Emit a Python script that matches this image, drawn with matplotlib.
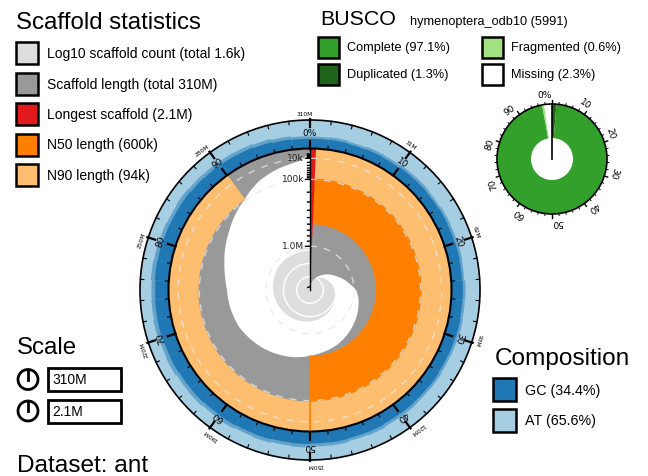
import numpy as np
import matplotlib
matplotlib.use("Agg")
import matplotlib.pyplot as plt
from matplotlib.path import Path
from matplotlib.patches import PathPatch, Rectangle, Circle

plt.rcParams['font.family'] = ['Liberation Sans', 'DejaVu Sans']

W, H, DPI = 648, 476, 100

# ---- assembly summary -------------------------------------------------
dataset = "ant"
total_length = 309e6
scaffold_total = 1600
longest = 2.1e6
n50 = 600e3
n90 = 94e3
gc_total = 34.4
at_total = 65.6

# scaffold length (kb) reached at each cumulative percentage of the assembly
length_pct = [0, 0.7, 2.5, 5, 7.5, 10, 12.5, 15, 17.5, 20, 22.5, 25, 27.5, 30,
              32.5, 35, 37.5, 40, 42.5, 45, 47.5, 50, 52.5, 55, 57.5, 60, 62.5,
              65, 67.5, 70, 72.5, 75, 77.5, 80, 82.5, 85, 87.5, 90, 91.5, 93,
              94.5, 96, 97.5, 99, 100]
length_kb = [2100, 2041, 1926, 1814, 1705, 1600, 1498, 1399, 1304, 1190, 1080,
             957, 897, 859, 821, 785, 749, 714, 680, 655, 630, 600, 567, 536,
             507, 478, 450, 423, 397, 384, 371, 359, 323, 278, 227, 181, 132,
             94, 68, 48, 36, 27, 21, 14, 1.3]

# number of scaffolds needed to reach each cumulative percentage
count_pct = [0, 2.5, 5, 10, 15, 20, 25, 30, 35, 40, 45, 50, 55, 60, 65, 70,
             75, 80, 85, 90, 95, 100]
count_n = [1, 3, 6, 14, 26, 45, 70, 95, 125, 160, 195, 230, 275, 330, 400,
           490, 600, 720, 860, 1020, 1250, 1600]

# GC content (%) per 2% bin of the assembly: bin mean and upper range
gc_mean = [34, 35, 33, 35, 34, 37, 38, 37, 39, 38,
           39, 38, 40, 39, 41, 40, 39, 41, 40, 41,
           40, 42, 41, 43, 42, 44, 43, 45, 44, 46,
           45, 47, 46, 48, 47, 49, 48, 47, 49, 48,
           47, 46, 47, 45, 44, 43, 42, 39, 36, 34]
gc_high = [42, 44, 41, 44, 43, 46, 47, 45, 48, 47,
           48, 46, 49, 48, 50, 49, 48, 50, 49, 51,
           50, 53, 51, 54, 53, 56, 54, 57, 55, 59,
           57, 60, 59, 62, 60, 63, 61, 60, 63, 61,
           60, 58, 60, 57, 56, 55, 54, 51, 47, 43]

# BUSCO (hymenoptera_odb10, 5991 genes)
busco_lineage = "hymenoptera_odb10"
busco_total = 5991
busco_complete = 97.1
busco_duplicated = 1.3
busco_fragmented = 0.6
busco_missing = 2.3

outer_tick_labels = ["31M", "62M", "93M", "120M", "150M", "190M", "220M",
                     "250M", "280M", "310M"]
axis_tick_values = [1e4, 1e5, 1e6]
axis_tick_labels = ["10k", "100k", "1.0M"]

# ---- colours -----------------------------------------------------------
C_COUNT = "#dddddd"
C_LEN = "#999999"
C_LONG = "#e31a1c"
C_N50 = "#ff7f00"
C_N90 = "#fdbf6f"
C_GC = "#1f78b4"
C_AT = "#a6cee3"
C_COMP = "#33a02c"
C_DUP = "#20641c"
C_FRAG = "#a3e283"
C_MISS = "#ffffff"

# ---- geometry (pixels) -----------------------------------------------
CX, CY = 310, 290
R_IN, R_OUT = 141.5, 170.0
R_COUNT = 42.6
BX, BY = 552, 159
B_IN, B_OUT = 21.0, 55.0

fig = plt.figure(figsize=(W / DPI, H / DPI), dpi=DPI)
ov = fig.add_axes([0, 0, 1, 1])
ov.set_xlim(0, W)
ov.set_ylim(H, 0)
ov.axis('off')


def polar_axes(cx, cy, rmax):
    a = fig.add_axes([(cx - rmax) / W, (H - cy - rmax) / H,
                      2 * rmax / W, 2 * rmax / H], projection='polar')
    a.set_theta_zero_location('N')
    a.set_theta_direction(-1)
    a.set_ylim(0, rmax)
    a.axis('off')
    a.patch.set_alpha(0)
    return a


def th(p):
    return np.radians(np.asarray(p, float) * 3.6)


def band(ax, pct, r_inner, r_outer, **kw):
    t = th(pct)
    ri = np.broadcast_to(np.asarray(r_inner, float), t.shape)
    ro = np.broadcast_to(np.asarray(r_outer, float), t.shape)
    verts = np.vstack([np.column_stack([t, ro]),
                       np.column_stack([t[::-1], ri[::-1]]),
                       [[t[0], ro[0]]]])
    codes = [Path.MOVETO] + [Path.LINETO] * (len(verts) - 2) + [Path.CLOSEPOLY]
    patch = PathPatch(Path(verts, codes, _interpolation_steps=40), **kw)
    ax.add_patch(patch)
    return patch


def ring(ax, r, **kw):
    verts = [[0, r], [2 * np.pi, r]]
    patch = PathPatch(Path(verts, [Path.MOVETO, Path.LINETO],
                           _interpolation_steps=40), fill=False, **kw)
    ax.add_patch(patch)
    return patch


def r_len(L):
    return R_IN * (1 - np.sqrt(np.asarray(L, float) / longest))


def r_cnt(n):
    return R_COUNT * np.log10(np.asarray(n, float)) / np.log10(scaffold_total)


# ---- snail plot -------------------------------------------------------
ax = polar_axes(CX, CY, 185)

# composition ring
nb = len(gc_mean)
edges = th(np.arange(nb) * 100 / nb)
bw = 2 * np.pi / nb
ax.bar(0, R_OUT - R_IN, width=2 * np.pi, bottom=R_IN, align='edge',
       color=C_AT, linewidth=0)
gc_hi = np.array(gc_high) / 100 * (R_OUT - R_IN)
gc_mu = np.array(gc_mean) / 100 * (R_OUT - R_IN)
ax.bar(edges, gc_hi, width=bw, bottom=R_IN, align='edge', color=C_GC,
       alpha=0.5, linewidth=0)
ax.bar(edges, gc_mu, width=bw, bottom=R_IN, align='edge', color=C_GC,
       linewidth=0)

# scaffold length and count
lengths = np.array(length_kb) * 1e3
band(ax, length_pct, r_len(lengths), R_IN, facecolor=C_LEN, edgecolor='none')
cnt_patch = band(ax, count_pct, 0, r_cnt(count_n), facecolor=C_COUNT,
                 edgecolor='none')
for n in (10, 100, 1000):
    c = ring(ax, float(r_cnt(n)), edgecolor='white', linewidth=1)
    c.set_clip_path(cnt_patch)

# N50 / N90 / longest
ax.bar(0, r_len(n90) - r_len(n50), width=th(50), bottom=r_len(n50),
       align='edge', color=C_N50, linewidth=0)
ax.bar(0, R_IN - r_len(n90), width=th(90), bottom=r_len(n90),
       align='edge', color=C_N90, linewidth=0)
ax.plot([th(50), th(50)], [r_len(n50), R_IN], color=C_N50, lw=1.2)
ax.plot([th(90), th(90)], [r_len(n90), R_IN], color=C_N90, lw=1.2)
ax.bar(0, R_IN, width=th(longest / total_length * 100), bottom=0,
       align='edge', color=C_LONG, linewidth=0)

# dashed guides at the axis ticks
for v in axis_tick_values:
    ring(ax, float(r_len(v)), edgecolor='#e6e6e6', linewidth=1,
         linestyle=(0, (5, 5)), alpha=0.8)

# radial axis
ax.plot([0, 0], [0, R_IN], color='black', lw=1)
for dec in (1e3, 1e4, 1e5, 1e6):
    for m in range(1, 10):
        v = dec * m
        if v > longest or v < 3e3:
            continue
        rv = float(r_len(v))
        major = m == 1
        ax.plot([0, -(4.5 if major else 2.5) / rv], [rv, rv], color='black',
                lw=1)
for v, s in zip(axis_tick_values, axis_tick_labels):
    rv = float(r_len(v))
    ax.text(-6 / rv, rv, s, ha='right', va='center', fontsize=6.5,
            family='DejaVu Sans', color='#222222')

# circles
ring(ax, R_IN, edgecolor='black', linewidth=1.5)
ring(ax, R_OUT, edgecolor='black', linewidth=1.2)

# ticks on the inner and outer circles
for p in range(0, 100, 2):
    t = float(th(p))
    major = p % 10 == 0
    ax.plot([t, t], [R_IN, R_IN + (8 if major else 3.5)], color='black',
            lw=1.6 if major else 0.8)
    ax.plot([t, t], [R_OUT - (7 if major else 3.5), R_OUT + (1 if major else 0)],
            color='black', lw=1.6 if major else 0.8)
R_LAB = R_OUT + 5.5
for i in range(10):
    p = i * 10
    t = float(th(p))
    lab = "0%" if p == 0 else str(p)
    ax.text(t, R_IN + 15, lab, rotation=-p * 3.6, rotation_mode='anchor',
            ha='center', va='center', fontsize=6.5, family='DejaVu Sans')
    t2 = float(th(p + 10)) + 2.5 / R_LAB
    ax.text(t2, R_LAB, outer_tick_labels[i], rotation=-(p + 10) * 3.6,
            rotation_mode='anchor', ha='right', va='center', fontsize=4.2,
            family='DejaVu Sans')

# ---- BUSCO donut ------------------------------------------------------
bx = polar_axes(BX, BY, 72)
single = busco_complete - busco_duplicated
starts = [0, busco_duplicated, busco_complete,
          busco_complete + busco_fragmented]
sizes = [busco_duplicated, single, busco_fragmented, busco_missing]
cols = [C_DUP, C_COMP, C_FRAG, C_MISS]
for s, w, c in zip(starts, sizes, cols):
    bx.bar(th(s), B_OUT - B_IN, width=th(w), bottom=B_IN, align='edge',
           color=c, linewidth=0)
ring(bx, B_OUT, edgecolor='black', linewidth=1.2)
bx.plot([0, 0], [0, B_OUT], color='black', lw=1.2)
for p in range(0, 100, 2):
    t = float(th(p))
    major = p % 10 == 0
    bx.plot([t, t], [B_OUT, B_OUT + (3.5 if major else 2)], color='black',
            lw=1.0 if major else 0.7)
for p in range(0, 100, 10):
    lab = "0%" if p == 0 else str(p)
    bx.text(float(th(p)), B_OUT + 8.5, lab, rotation=-p * 3.6,
            rotation_mode='anchor', ha='right', va='center', fontsize=6.5,
            family='DejaVu Sans')

# ---- legends ----------------------------------------------------------
def swatch(x, y, size, color):
    ov.add_patch(Rectangle((x, y), size, size, facecolor=color,
                           edgecolor='black', linewidth=1.8))


ov.text(16, 29, "Scaffold statistics", fontsize=17.3, va='baseline')
scaf_items = [
    (C_COUNT, f"Log10 scaffold count (total {scaffold_total / 1000:.1f}k)"),
    (C_LEN, "Scaffold length (total 310M)"),
    (C_LONG, f"Longest scaffold ({longest / 1e6:.1f}M)"),
    (C_N50, f"N50 length ({n50 / 1e3:.0f}k)"),
    (C_N90, f"N90 length ({n90 / 1e3:.0f}k)"),
]
for i, (c, s) in enumerate(scaf_items):
    y = 42 + i * 30.5
    swatch(16, y, 22, c)
    ov.text(47, y + 12, s, fontsize=10, va='center')

ov.text(320, 25, "BUSCO", fontsize=15.4, va='baseline')
ov.text(410, 25, f"{busco_lineage} ({busco_total})", fontsize=9.2,
        va='baseline')
busco_items = [
    (318, 37, C_COMP, f"Complete ({busco_complete}%)"),
    (482, 37, C_FRAG, f"Fragmented ({busco_fragmented}%)"),
    (318, 63.5, C_DUP, f"Duplicated ({busco_duplicated}%)"),
    (482, 63.5, C_MISS, f"Missing ({busco_missing}%)"),
]
for x, y, c, s in busco_items:
    swatch(x, y, 21, c)
    ov.text(x + 29, y + 11.5, s, fontsize=9.2, va='center')

ov.text(17, 354, "Scale", fontsize=17.3, va='baseline')
for y0, s in ((368, "310M"), (399.5, "2.1M")):
    yc = y0 + 11.5
    ov.add_patch(Circle((28, yc), 10, facecolor='white', edgecolor='black',
                        linewidth=2))
    ov.plot([28, 28], [yc, yc - 10], color='black', lw=2)
    ov.add_patch(Rectangle((48, y0), 73, 23, facecolor='white',
                           edgecolor='black', linewidth=2))
    ov.text(52, yc + 1, s, fontsize=10, va='center')

ov.text(17, 471.5, f"Dataset: {dataset}", fontsize=17.6, va='baseline')

ov.text(495, 365, "Composition", fontsize=17.6, va='baseline')
for y0, c, s in ((378, C_GC, f"GC ({gc_total}%)"), (408.5, C_AT, f"AT ({at_total}%)")):
    swatch(493, y0, 23, c)
    ov.text(525, y0 + 12.5, s, fontsize=10.3, va='center')

fig.savefig("out.png", dpi=DPI)
